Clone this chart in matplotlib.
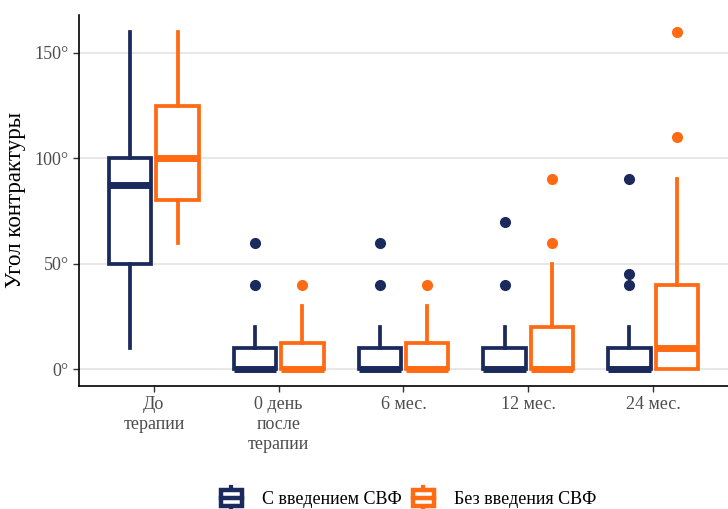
import matplotlib.pyplot as plt
from matplotlib.patches import Patch, Rectangle
from matplotlib.lines import Line2D
from matplotlib.legend_handler import HandlerBase

plt.rcParams['font.family'] = ['Liberation Serif', 'DejaVu Serif']

groups = ["До\nтерапии", "0 день\nпосле\nтерапии", "6 мес.", "12 мес.", "24 мес."]

# С введением СВФ
with_lo = [10, 0, 0, 0, 0]
with_q1 = [50, 0, 0, 0, 0]
with_med = [87.5, 0, 0, 0, 0]
with_q3 = [100, 10, 10, 10, 10]
with_hi = [160, 20, 20, 20, 20]
with_out = [[], [40, 60], [40, 60], [40, 70], [40, 45, 90]]

# Без введения СВФ
without_lo = [60, 0, 0, 0, 0]
without_q1 = [80, 0, 0, 0, 0]
without_med = [100, 0, 0, 0, 10]
without_q3 = [125, 12.5, 12.5, 20, 40]
without_hi = [160, 30, 30, 50, 90]
without_out = [[], [40], [40], [60, 90], [110, 160]]

navy = "#1b2a5c"
orange = "#ff6a12"


def make_stats(lo, q1, med, q3, hi, out):
    return [dict(whislo=a, q1=b, med=c, q3=d, whishi=e, fliers=f)
            for a, b, c, d, e, f in zip(lo, q1, med, q3, hi, out)]


fig = plt.figure(figsize=(7.28, 5.09), dpi=100)
ax = fig.add_axes([0.1085, 0.2417, 0.8915, 0.7288])

pos = list(range(1, len(groups) + 1))
off = 0.19
w = 0.34

for stats, color, sh in [(make_stats(with_lo, with_q1, with_med, with_q3, with_hi, with_out), navy, -off),
                         (make_stats(without_lo, without_q1, without_med, without_q3, without_hi, without_out), orange, off)]:
    ax.bxp(stats, positions=[p + sh for p in pos], widths=w, showcaps=False,
           patch_artist=True, manage_ticks=False,
           boxprops=dict(facecolor='white', edgecolor=color, linewidth=2.7),
           whiskerprops=dict(color=color, linewidth=2.7),
           medianprops=dict(color=color, linewidth=5, solid_capstyle='butt'),
           flierprops=dict(marker='o', markerfacecolor=color, markeredgecolor=color,
                           markersize=7, linestyle='none'))

ax.set_xlim(0.4, 5.6)
ax.set_ylim(-8, 168)
ax.set_xticks(pos)
ax.set_xticklabels(groups, fontsize=13, color='#4d4d4d', linespacing=1.2)
ax.set_yticks([0, 50, 100, 150])
ax.set_yticklabels(["0°", "50°", "100°", "150°"], fontsize=13, color='#4d4d4d')
ax.set_ylabel("Угол контрактуры", fontsize=16.5, labelpad=6)
ax.tick_params(axis='both', length=4, width=1, color='#333333')
ax.grid(axis='y', color='#e3e3e3', linewidth=1.2)
ax.set_axisbelow(True)
for s in ['top', 'right']:
    ax.spines[s].set_visible(False)
for s in ['left', 'bottom']:
    ax.spines[s].set_linewidth(1.2)


class BoxHandler(HandlerBase):
    def create_artists(self, legend, orig_handle, xdescent, ydescent, width, height, fontsize, trans):
        c = orig_handle.get_edgecolor()
        x0, y0 = -xdescent, -ydescent
        bw, bh = width * 0.95, height * 0.72
        bx = x0 + (width - bw) / 2
        by = y0 + (height - bh) / 2
        cx = x0 + width / 2
        r = Rectangle((bx, by), bw, bh, facecolor='white', edgecolor=c, linewidth=3.2, transform=trans)
        m = Line2D([bx, bx + bw], [y0 + height / 2] * 2, color=c, linewidth=3.2, transform=trans)
        t = Line2D([cx, cx], [by + bh, y0 + height * 1.02], color=c, linewidth=3, transform=trans)
        b = Line2D([cx, cx], [y0 - height * 0.02, by], color=c, linewidth=3, transform=trans)
        return [t, b, r, m]


handles = [Patch(edgecolor=navy, facecolor='white'), Patch(edgecolor=orange, facecolor='white')]
fig.legend(handles, ["С введением СВФ", "Без введения СВФ"], loc='center',
           bbox_to_anchor=(0.561, 0.021), ncol=2, frameon=False, fontsize=13,
           handler_map={Patch: BoxHandler()}, handlelength=1.2, handleheight=1.5,
           columnspacing=0.6, handletextpad=1.1)

fig.savefig("out.png", dpi=100)
